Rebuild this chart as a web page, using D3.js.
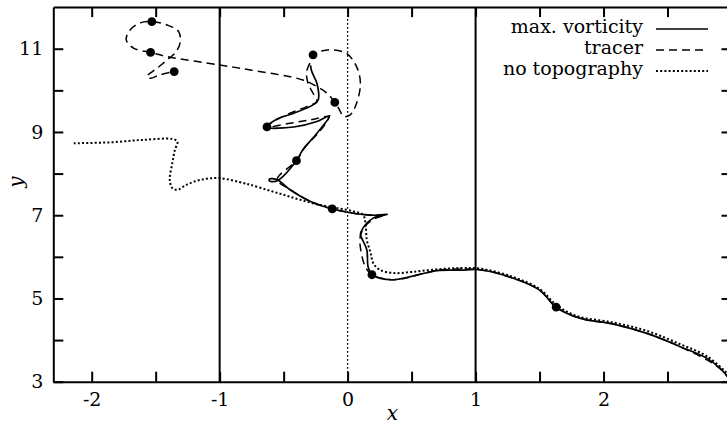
<!DOCTYPE html>
<html>
<head>
<meta charset="utf-8">
<script src="https://cdn.jsdelivr.net/npm/d3@7"></script>
<style>
    body { margin: 0; background: #fff; }
    svg { display: block; font-family: "DejaVu Serif", serif; }
    .tick text { font-size: 19px; fill: #000; }
</style>
</head>
<body>
<div id="chart"></div>
<script>

// Data (x, y) ///////////////////////////////////////////////////////////////

const maxVorticity = [
    [2.99, 3.02], [2.96, 3.16], [2.91, 3.32], [2.81, 3.56], [2.60, 3.84],
    [2.34, 4.16], [2.07, 4.39], [1.82, 4.52], [1.63, 4.79], [1.50, 5.20],
    [1.29, 5.49], [1.03, 5.69], [0.88, 5.68], [0.70, 5.67], [0.54, 5.56],
    [0.36, 5.45], [0.25, 5.49], [0.19, 5.57], [0.16, 5.76], [0.15, 6.17],
    [0.11, 6.45], [0.10, 6.53], [0.12, 6.69], [0.20, 6.93], [0.31, 7.02],
    [0.19, 7.00], [-0.12, 7.15], [-0.29, 7.33], [-0.45, 7.61], [-0.55, 7.85],
    [-0.61, 7.87], [-0.61, 7.82], [-0.55, 7.83], [-0.40, 8.31], [-0.35, 8.57],
    [-0.24, 8.97], [-0.14, 9.39], [-0.24, 9.25], [-0.42, 9.12], [-0.63, 9.12],
    [-0.55, 9.31], [-0.42, 9.45], [-0.27, 9.65], [-0.23, 9.77], [-0.24, 10.17],
    [-0.28, 10.45], [-0.29, 10.60]
];

const tracer = [
    [2.99, 3.02], [2.91, 3.32], [2.60, 3.84], [2.34, 4.16], [2.07, 4.39],
    [1.82, 4.52], [1.63, 4.79], [1.50, 5.20], [1.29, 5.49], [1.03, 5.69],
    [0.70, 5.67], [0.36, 5.45], [0.19, 5.57], [0.14, 5.75], [0.10, 6.22],
    [0.10, 6.50], [0.14, 6.75], [0.22, 6.93], [0.30, 7.01], [0.18, 7.00],
    [-0.12, 7.15], [-0.29, 7.33], [-0.45, 7.62], [-0.55, 7.86], [-0.40, 8.31],
    [-0.33, 8.65], [-0.22, 9.01], [-0.15, 9.36], [-0.29, 9.29], [-0.45, 9.21],
    [-0.63, 9.12], [-0.58, 9.25], [-0.45, 9.45], [-0.32, 9.61], [-0.24, 9.73],
    [-0.27, 9.93], [-0.31, 10.17], [-0.32, 10.45], [-0.29, 10.69], [-0.27, 10.85],
    [-0.16, 10.97], [-0.01, 10.89], [0.07, 10.57], [0.10, 10.17], [0.07, 9.69],
    [0.02, 9.41], [-0.03, 9.37], [-0.07, 9.57], [-0.10, 9.71], [-0.16, 9.93],
    [-0.24, 10.09], [-0.35, 10.25], [-0.76, 10.49], [-1.00, 10.61], [-1.41, 10.81],
    [-1.54, 10.91], [-1.67, 11.01], [-1.73, 11.21], [-1.70, 11.45], [-1.62, 11.62],
    [-1.53, 11.65], [-1.41, 11.57], [-1.32, 11.41], [-1.31, 11.13], [-1.35, 10.89],
    [-1.41, 10.73], [-1.49, 10.53], [-1.57, 10.33], [-1.54, 10.29], [-1.47, 10.37],
    [-1.355, 10.45]
];

const noTopography = [
    [2.96, 3.22], [2.81, 3.61], [2.60, 3.90], [2.34, 4.22], [2.08, 4.42],
    [1.79, 4.58], [1.63, 4.85], [1.50, 5.23], [1.29, 5.52], [1.03, 5.72],
    [0.88, 5.73], [0.70, 5.70], [0.51, 5.64], [0.36, 5.61], [0.25, 5.69],
    [0.20, 5.85], [0.18, 6.09], [0.15, 6.41], [0.14, 6.81], [0.12, 7.01],
    [0.05, 7.09], [-0.08, 7.17], [-0.22, 7.25], [-0.37, 7.37], [-0.50, 7.49],
    [-0.63, 7.61], [-0.76, 7.73], [-0.81, 7.77], [-1.00, 7.89], [-1.15, 7.85],
    [-1.26, 7.73], [-1.33, 7.61], [-1.37, 7.65], [-1.39, 7.85], [-1.37, 8.25],
    [-1.35, 8.57], [-1.33, 8.77], [-1.37, 8.83], [-1.60, 8.81], [-1.86, 8.75],
    [-2.14, 8.73]
];

const markers = [
    [1.63, 4.79], [0.19, 5.57], [-0.12, 7.15], [-0.40, 8.31], [-0.63, 9.12],
    [-0.27, 10.85], [-0.10, 9.71], [-1.54, 10.91], [-1.53, 11.65], [-1.355, 10.45]
];

const xTicks = [-2, -1.5, -1, -0.5, 0, 0.5, 1, 1.5, 2, 2.5];
const yTicks = [3, 4, 5, 6, 7, 8, 9, 10, 11];
const xLabels = [-2, -1, 0, 1, 2];
const yLabels = [3, 5, 7, 9, 11];
const solidLines = [-1, 1];
const dottedLines = [0];

const legendItems = ["max. vorticity", "tracer", "no topography"];


// Setup //////////////////////////////////////////////////////////////////////

const params = {
    width: 727,
    height: 433,
    left: 53.3,
    right: 731.5,
    top: 7.1,
    bottom: 381.7,
    tick: 10
};

const x = d3.scaleLinear().domain([-2.3, 3]).range([params.left, params.right]);
const y = d3.scaleLinear().domain([3, 12]).range([params.bottom, params.top]);

const svg = d3.select("#chart")
    .append("svg")
        .attr("width", params.width)
        .attr("height", params.height)
        .attr("viewBox", [0, 0, params.width, params.height]);

svg.append("defs").append("clipPath")
    .attr("id", "plot-clip")
    .append("rect")
        .attr("x", params.left)
        .attr("y", params.top)
        .attr("width", params.right - params.left)
        .attr("height", params.bottom - params.top);


// Reference lines ////////////////////////////////////////////////////////////

svg.append("g")
    .selectAll("line")
    .data(solidLines)
    .join("line")
    .attr("x1", d => x(d)).attr("x2", d => x(d))
    .attr("y1", params.top).attr("y2", params.bottom)
    .attr("stroke", "#000")
    .attr("stroke-width", 2);

svg.append("g")
    .selectAll("line")
    .data(dottedLines)
    .join("line")
    .attr("x1", d => x(d)).attr("x2", d => x(d))
    .attr("y1", params.top).attr("y2", params.bottom)
    .attr("stroke", "#000")
    .attr("stroke-width", 1.3)
    .attr("stroke-dasharray", "1.6,2.4");


// Curves /////////////////////////////////////////////////////////////////////

const line = d3.line()
    .x(d => x(d[0]))
    .y(d => y(d[1]))
    .curve(d3.curveCatmullRom.alpha(0.5));

const series = [
    { data: noTopography, dash: "2,2.2", width: 2 },
    { data: tracer, dash: "8,5", width: 1.5 },
    { data: maxVorticity, dash: null, width: 1.7 }
];

const curves = svg.append("g").attr("clip-path", "url(#plot-clip)");

curves.selectAll("path")
    .data(series)
    .join("path")
    .attr("d", d => line(d.data))
    .attr("fill", "none")
    .attr("stroke", "#000")
    .attr("stroke-width", d => d.width)
    .attr("stroke-dasharray", d => d.dash)
    .attr("stroke-linejoin", "round");

curves.append("g")
    .selectAll("circle")
    .data(markers)
    .join("circle")
    .attr("cx", d => x(d[0]))
    .attr("cy", d => y(d[1]))
    .attr("r", 4.4)
    .attr("fill", "#000");


// Axes ///////////////////////////////////////////////////////////////////////

const fmtX = d => xLabels.includes(d) ? String(d) : "";
const fmtY = d => yLabels.includes(d) ? String(d) : "";

const styleAxis = g => {
    g.selectAll("path.domain").attr("stroke-width", 2);
    g.selectAll(".tick line").attr("stroke-width", 2);
    g.selectAll(".tick text").attr("font-family", "DejaVu Serif, serif");
};

svg.append("g")
    .attr("transform", `translate(0,${params.bottom})`)
    .call(d3.axisBottom(x).tickValues(xTicks).tickFormat(fmtX)
        .tickSizeInner(-params.tick).tickSizeOuter(0).tickPadding(11))
    .call(styleAxis);

svg.append("g")
    .attr("transform", `translate(0,${params.top})`)
    .call(d3.axisTop(x).tickValues(xTicks).tickFormat("")
        .tickSizeInner(-params.tick).tickSizeOuter(0))
    .call(styleAxis);

svg.append("g")
    .attr("transform", `translate(${params.left},0)`)
    .call(d3.axisLeft(y).tickValues(yTicks).tickFormat(fmtY)
        .tickSizeInner(-params.tick).tickSizeOuter(0).tickPadding(10))
    .call(styleAxis);

svg.append("g")
    .attr("transform", `translate(${params.right},0)`)
    .call(d3.axisRight(y).tickValues(yTicks).tickFormat("")
        .tickSizeInner(-params.tick).tickSizeOuter(0))
    .call(styleAxis);

svg.append("text")
    .attr("x", (params.left + params.right) / 2)
    .attr("y", 420)
    .attr("text-anchor", "middle")
    .attr("font-style", "italic")
    .attr("font-size", 20)
    .text("x");

svg.append("text")
    .attr("transform", "translate(23,182) rotate(-90)")
    .attr("text-anchor", "middle")
    .attr("font-style", "italic")
    .attr("font-size", 20)
    .text("y");


// Legend /////////////////////////////////////////////////////////////////////

const legend = svg.append("g").attr("transform", "translate(0,33)");

const rows = legend.selectAll("g")
    .data(legendItems)
    .join("g")
    .attr("transform", (d, i) => `translate(0,${i * 21})`);

rows.append("text")
    .attr("x", 643)
    .attr("text-anchor", "end")
    .attr("font-size", 19)
    .text(d => d);

rows.append("line")
    .attr("x1", 656).attr("x2", 708)
    .attr("y1", -4).attr("y2", -4)
    .attr("stroke", "#000")
    .attr("stroke-width", (d, i) => series[2 - i].width)
    .attr("stroke-dasharray", (d, i) => series[2 - i].dash);

</script>
</body>
</html>
